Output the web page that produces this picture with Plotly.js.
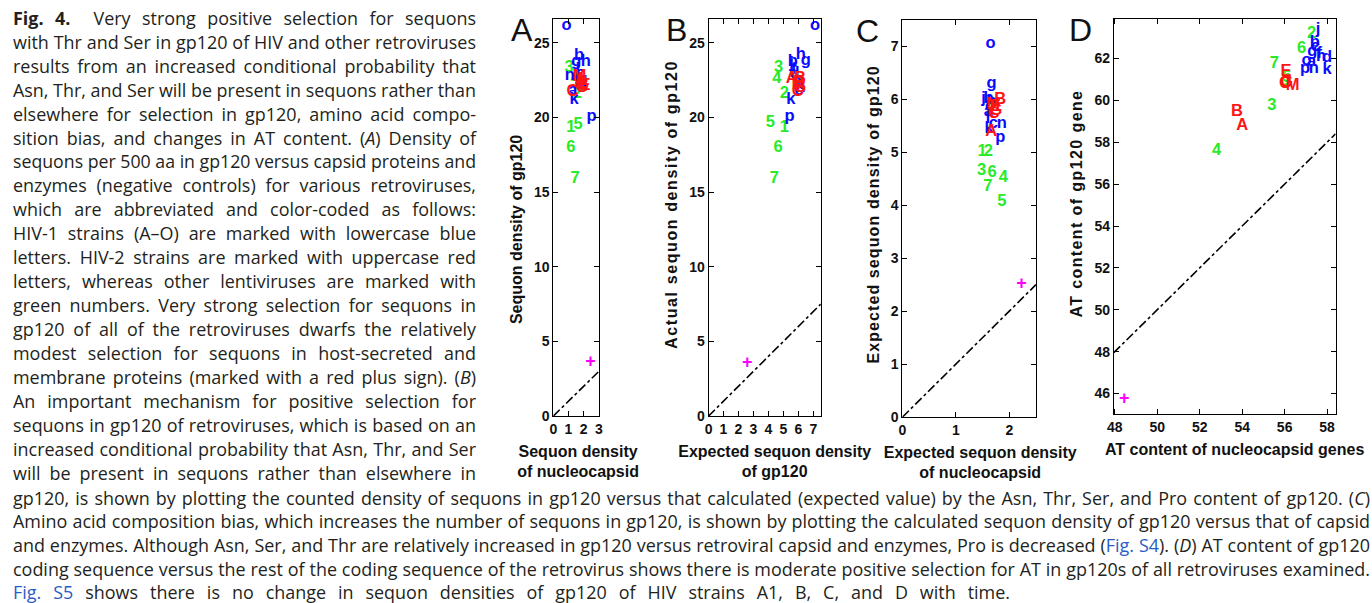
<!DOCTYPE html>
<html><head><meta charset="utf-8">
<script src="https://cdn.plot.ly/plotly-3.0.1.min.js"></script>
<style>
html,body{margin:0;padding:0;background:#fff}
body{width:1372px;height:603px;overflow:hidden;position:relative}
#plot{position:absolute;left:0;top:0;width:1372px;height:603px}
.ln{position:absolute;left:13px;white-space:nowrap;font-family:'Open Sans','Noto Sans',sans-serif;font-size:18.5px;line-height:24px;color:#231f20;z-index:5}
.ln span.t{display:inline-block;white-space:nowrap;transform-origin:0 50%}
.lnk{color:#2b5cc4}
.fig{font-weight:bold;margin-right:12px}
</style></head>
<body>
<div id="plot"></div>
<div id="cap"></div>
<script>
// ---------------- DATA ----------------
const blueLabels  = ['a','b','c','d','f','g','h','j','k','n','o','p'];   // HIV-1 strains
const redLabels   = ['A','B','C','E','G','M'];                           // HIV-2 strains
const greenLabels = ['1','2','3','4','5','6','7'];                       // other lentiviruses
const hostLabel   = ['+'];                                               // host secreted/membrane proteins

// Panel A: sequon density of nucleocapsid (x) vs gp120 (y)
const aBlueX  = [1.28, 1.70, 1.80, 1.92, 1.55, 1.52, 2.13, 1.62, 1.37, 1.08, 0.87, 2.52];
const aBlueY  = [21.8, 24.1, 22.9, 22.3, 22.4, 23.7, 23.7, 23.2, 21.15, 22.8, 26.1, 20.05];
const aRedX   = [1.78, 1.95, 1.26, 2.08, 1.88, 1.72];
const aRedY   = [22.5, 22.2, 21.7, 22.1, 22.0, 22.7];
const aGreenX = [1.15, 1.58, 1.04, 1.43, 1.63, 1.15, 1.43];
const aGreenY = [19.3, 21.6, 23.3, 22.6, 19.5, 17.95, 15.9];
const aHostX  = [2.45];
const aHostY  = [3.6];

// Panel B: expected (x) vs actual (y) sequon density of gp120
const bBlueX  = [6.00, 5.63, 6.05, 5.75, 5.70, 6.49, 6.16, 5.55, 5.50, 6.15, 7.11, 5.41];
const bBlueY  = [22.3, 23.7, 21.75, 22.9, 23.2, 23.8, 24.2, 23.6, 21.15, 22.0, 26.1, 20.05];
const bRedX   = [5.56, 6.10, 5.95, 6.05, 6.10, 6.00];
const bRedY   = [22.6, 22.6, 21.7, 22.3, 21.95, 22.15];
const bGreenX = [5.06, 5.06, 4.68, 4.57, 4.13, 4.64, 4.39];
const bGreenY = [19.3, 21.6, 23.3, 22.6, 19.6, 17.95, 15.9];
const bHostX  = [2.58];
const bHostY  = [3.53];

// Panel C: expected sequon density of nucleocapsid (x) vs gp120 (y)
const cBlueX  = [1.61, 1.61, 1.70, 1.64, 1.60, 1.67, 1.67, 1.52, 1.62, 1.86, 1.65, 1.83];
const cBlueY  = [5.76, 6.00, 5.53, 5.86, 5.62, 6.29, 5.95, 6.00, 5.44, 5.53, 7.04, 5.27];
const cRedX   = [1.66, 1.83, 1.71, 1.74, 1.75, 1.70];
const cRedY   = [5.39, 5.99, 5.72, 5.86, 5.78, 5.90];
const cGreenX = [1.49, 1.61, 1.48, 1.89, 1.86, 1.68, 1.60];
const cGreenY = [5.01, 5.01, 4.65, 4.51, 4.07, 4.60, 4.35];
const cHostX  = [2.23];
const cHostY  = [2.50];

// Panel D: AT content of nucleocapsid genes (x) vs gp120 gene (y)
const dBlueX  = [57.27, 57.42, 57.45, 58.00, 57.63, 57.31, 57.72, 57.58, 58.00, 57.38, 57.03, 56.96];
const dBlueY  = [61.84, 62.75, 62.55, 62.05, 62.20, 62.31, 62.10, 63.38, 61.47, 61.50, 61.90, 61.50];
const dRedX   = [54.00, 53.76, 56.02, 56.07, 56.10, 56.38];
const dRedY   = [58.78, 59.45, 60.79, 61.37, 60.85, 60.68];
const dGreenX = [56.15, 57.27, 55.40, 52.80, 56.10, 56.80, 55.51];
const dGreenY = [60.95, 63.18, 59.72, 57.57, 61.06, 62.47, 61.76];
const dHostX  = [48.44];
const dHostY  = [45.70];

// Tick values and axis titles
const aXTicks = [0,1,2,3];            const aYTicks = [0,5,10,15,20,25];
const bXTicks = [0,1,2,3,4,5,6,7];    const bYTicks = [0,5,10,15,20,25];
const cXTicks = [0,1,2];              const cYTicks = [0,1,2,3,4,5,6,7];
const dXTicks = [48,50,52,54,56,58];  const dYTicks = [46,48,50,52,54,56,58,60,62];
const panelLetters = ['A','B','C','D'];
const xTitles = ['Sequon density<br>of nucleocapsid','Expected sequon density<br>of gp120','Expected sequon density<br>of nucleocapsid','AT content of nucleocapsid genes'];
const yTitles = ['Sequon density of gp120','Actual sequon density of gp120','Expected sequon density of gp120','AT content of gp120 gene'];

// ---------------- LAYOUT ----------------
const W = 1372, H = 603;
const FONT = 'Liberation Sans, Arial, Helvetica, sans-serif';
const COL = {blue:'rgb(10,10,255)', red:'rgb(255,20,20)', green:'rgb(40,235,40)', host:'rgb(255,0,255)'};

const panels = [
  {bx:[aBlueX,aBlueY], rd:[aRedX,aRedY], gr:[aGreenX,aGreenY], hs:[aHostX,aHostY], xr:[0,3],  yr:[0,26.6], xt:aXTicks, yt:aYTicks, px:[550.7,596.7],  py:[19,421.7], lab:[519,30], xdx:2,  ydy:12,  ls:0},
  {bx:[bBlueX,bBlueY], rd:[bRedX,bRedY], gr:[bGreenX,bGreenY], hs:[bHostX,bHostY], xr:[0,7.5],yr:[0,26.6], xt:bXTicks, yt:bYTicks, px:[707.2,820.4],  py:[19,421.7], lab:[675,30], xdx:10, ydy:-13, ls:1.6},
  {bx:[cBlueX,cBlueY], rd:[cRedX,cRedY], gr:[cGreenX,cGreenY], hs:[cHostX,cHostY], xr:[0,2.5],yr:[0,7.5],  xt:cXTicks, yt:cYTicks, px:[902.7,1037.3], py:[20,422.7], lab:[867,31], xdx:11, ydy:-4,  ls:1.1},
  {bx:[dBlueX,dBlueY], rd:[dRedX,dRedY], gr:[dGreenX,dGreenY], hs:[dHostX,dHostY], xr:[47.95,58.4],yr:[45,63.9], xt:dXTicks, yt:dYTicks, px:[1115.7,1339.3], py:[19,420], lab:[1082,30], xdx:10, ydy:-13, ls:1.4}
];

const traces = [];
const layout = {
  width: W, height: H, margin:{l:0,r:0,t:0,b:0,pad:0},
  paper_bgcolor:'#fff', plot_bgcolor:'#fff', showlegend:false, hovermode:false,
  font:{family:FONT, color:'#111'}, annotations:[]
};

panels.forEach((p, i) => {
  const n = i === 0 ? '' : String(i+1);
  const xa = 'x'+n, ya = 'y'+n;
  const tf = (c, s) => ({family:FONT, size:s||16.5, color:c, weight:'bold'});
  // y = x reference line
  traces.push({x:[p.xr[0], p.xr[1]], y:[p.xr[0], p.xr[1]], mode:'lines', xaxis:xa, yaxis:ya,
               line:{color:'#000', width:1.6, dash:'dashdot'}, hoverinfo:'skip'});
  traces.push({x:p.hs[0], y:p.hs[1], text:hostLabel, mode:'text', textposition:'middle center', xaxis:xa, yaxis:ya, textfont:tf(COL.host,18), cliponaxis:false});
  traces.push({x:p.gr[0], y:p.gr[1], text:greenLabels, mode:'text', textposition:'middle center', xaxis:xa, yaxis:ya, textfont:tf(COL.green), cliponaxis:false});
  traces.push({x:p.bx[0], y:p.bx[1], text:blueLabels, mode:'text', textposition:'middle center', xaxis:xa, yaxis:ya, textfont:tf(COL.blue), cliponaxis:false});
  traces.push({x:p.rd[0], y:p.rd[1], text:redLabels, mode:'text', textposition:'middle center', xaxis:xa, yaxis:ya, textfont:tf(COL.red), cliponaxis:false});

  const common = {showgrid:false, zeroline:false, showline:true, linecolor:'#000', linewidth:1, mirror:'ticks',
    ticks:'inside', ticklen:5, tickwidth:1, tickcolor:'#000', automargin:true, fixedrange:true,
    tickfont:{family:FONT, size:14, color:'#111', weight:'bold'}};
  layout['xaxis'+n] = Object.assign({}, common, {
    domain:[p.px[0]/W, p.px[1]/W], range:p.xr, tickmode:'array', tickvals:p.xt, anchor:ya,
    title:{text:xTitles[i], standoff:9, font:{family:FONT, size:16, color:'#111', weight:'bold'}}
  });
  layout['yaxis'+n] = Object.assign({}, common, {
    domain:[1-p.py[1]/H, 1-p.py[0]/H], range:p.yr, tickmode:'array', tickvals:p.yt, anchor:xa,
    title:{text:yTitles[i], standoff:7, font:{family:FONT, size:16, color:'#111', weight:'bold'}}
  });
  layout.annotations.push({xref:'paper', yref:'paper', x:p.lab[0]/W, y:1-p.lab[1]/H, text:panelLetters[i],
    showarrow:false, xanchor:'center', yanchor:'middle', font:{family:FONT, size:32, color:'#111'}});
});

Plotly.newPlot('plot', traces, layout, {staticPlot:true, displayModeBar:false}).then(() => {
  // fine placement of axis titles as in the original figure
  panels.forEach((p, i) => {
    const n = i === 0 ? '' : String(i+1);
    const xt = document.querySelector('.x' + n + 'title');
    const yt = document.querySelector('.y' + n + 'title');
    if (xt) xt.setAttribute('transform', 'translate(' + p.xdx + ',0) ' + (xt.getAttribute('transform') || ''));
    if (yt) {
      if (p.ls) yt.style.letterSpacing = p.ls + 'px';
      yt.setAttribute('transform', 'translate(0,' + p.ydy + ') ' + (yt.getAttribute('transform') || ''));
    }
  });
});

// ---------------- CAPTION ----------------
const leftLines = [
  '<span class="fig">Fig. 4.</span> Very strong positive selection for sequons',
  'with Thr and Ser in gp120 of HIV and other retroviruses',
  'results from an increased conditional probability that',
  'Asn, Thr, and Ser will be present in sequons rather than',
  'elsewhere for selection in gp120, amino acid compo-',
  'sition bias, and changes in AT content. (<i>A</i>) Density of',
  'sequons per 500 aa in gp120 versus capsid proteins and',
  'enzymes (negative controls) for various retroviruses,',
  'which are abbreviated and color-coded as follows:',
  'HIV-1 strains (A–O) are marked with lowercase blue',
  'letters. HIV-2 strains are marked with uppercase red',
  'letters, whereas other lentiviruses are marked with',
  'green numbers. Very strong selection for sequons in',
  'gp120 of all of the retroviruses dwarfs the relatively',
  'modest selection for sequons in host-secreted and',
  'membrane proteins (marked with a red plus sign). (<i>B</i>)',
  'An important mechanism for positive selection for',
  'sequons in gp120 of retroviruses, which is based on an',
  'increased conditional probability that Asn, Thr, and Ser',
  'will be present in sequons rather than elsewhere in'
];
const bottomLines = [
  'gp120, is shown by plotting the counted density of sequons in gp120 versus that calculated (expected value) by the Asn, Thr, Ser, and Pro content of gp120. (<i>C</i>)',
  'Amino acid composition bias, which increases the number of sequons in gp120, is shown by plotting the calculated sequon density of gp120 versus that of capsid',
  'and enzymes. Although Asn, Ser, and Thr are relatively increased in gp120 versus retroviral capsid and enzymes, Pro is decreased (<span class="lnk">Fig. S4</span>). (<i>D</i>) AT content of gp120',
  'coding sequence versus the rest of the coding sequence of the retrovirus shows there is moderate positive selection for AT in gp120s of all retroviruses examined.',
  '<span class="lnk">Fig. S5</span> shows there is no change in sequon densities of gp120 of HIV strains A1, B, C, and D with time.'
];
const cap = document.getElementById('cap');
const lineEls = [];
function addLine(html, top, width) {
  const d = document.createElement('div');
  d.className = 'ln'; d.style.top = top + 'px';
  const s = document.createElement('span'); s.className = 't'; s.innerHTML = html;
  d.appendChild(s); cap.appendChild(d);
  lineEls.push({s, width});
}
leftLines.forEach((h, i) => addLine(h, 5.75 + 23.95*i, 463));
bottomLines.forEach((h, i) => addLine(h, 485.75 + 23.6*i, i === bottomLines.length-1 ? 997 : 1357));

function fit() {
  const c0 = 0.97; // the original caption face is a little narrower than Open Sans
  lineEls.forEach(({s, width}) => {
    s.style.wordSpacing = '0px'; s.style.transform = 'none';
    const w = s.getBoundingClientRect().width;
    const nSp = (s.textContent.match(/ /g) || []).length;
    let c = c0, ws = nSp ? (width / c0 - w) / nSp : 0;
    if (ws < 0) { ws = 0; c = width / w; }
    s.style.wordSpacing = ws + 'px';
    s.style.transform = 'scaleX(' + c + ')';
  });
}
fit();
if (document.fonts && document.fonts.ready) document.fonts.ready.then(fit);
</script>
</body></html>
